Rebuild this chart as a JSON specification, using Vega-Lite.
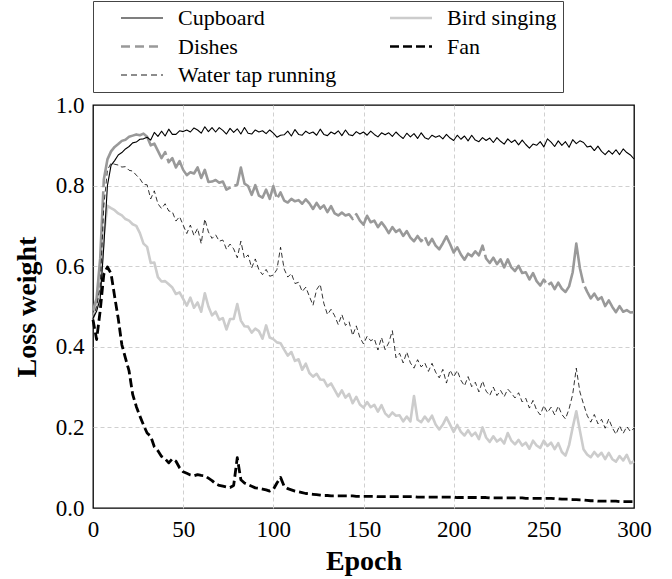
{
  "$schema": "https://vega.github.io/schema/vega-lite/v6.json",
  "width": 541,
  "height": 403,
  "autosize": {"type": "none"},
  "padding": {"left": 93, "top": 105, "right": 38, "bottom": 71},
  "background": "white",
  "config": {
    "font": "Liberation Serif",
    "view": {"stroke": "black", "strokeWidth": 1.3},
    "axis": {
      "labelFont": "Liberation Serif", "labelFontSize": 23, "labelColor": "black",
      "titleFont": "Liberation Serif", "titleFontSize": 28, "titleFontWeight": "bold", "titleColor": "black",
      "ticks": false, "domain": false, "grid": true, "gridDash": [4, 3], "gridColor": "#d0d0d0", "gridWidth": 1,
      "labelFlush": false, "labelOverlap": false
    }
  },
  "datasets": {
    "names": [
      {"k": "c", "name": "Cupboard"},
      {"k": "d", "name": "Dishes"},
      {"k": "w", "name": "Water tap running"},
      {"k": "b", "name": "Bird singing"},
      {"k": "f", "name": "Fan"}
    ]
  },
  "data": {"values": [
    {"e":0,"c":0.470,"d":0.490,"w":0.470,"b":0.470,"f":0.467},
    {"e":2,"c":0.488,"d":0.520,"w":0.500,"b":0.500,"f":0.418},
    {"e":4,"c":0.520,"d":0.620,"w":0.550,"b":0.550,"f":0.490},
    {"e":6,"c":0.650,"d":0.815,"w":0.750,"b":0.680,"f":0.580},
    {"e":8,"c":0.800,"d":0.865,"w":0.838,"b":0.750,"f":0.598},
    {"e":10,"c":0.850,"d":0.885,"w":0.856,"b":0.744,"f":0.582},
    {"e":12,"c":0.862,"d":0.896,"w":0.853,"b":0.739,"f":0.525},
    {"e":14,"c":0.876,"d":0.903,"w":0.851,"b":0.731,"f":0.470},
    {"e":16,"c":0.882,"d":0.911,"w":0.846,"b":0.726,"f":0.405},
    {"e":18,"c":0.891,"d":0.914,"w":0.847,"b":0.717,"f":0.372},
    {"e":20,"c":0.897,"d":0.921,"w":0.838,"b":0.713,"f":0.340},
    {"e":22,"c":0.906,"d":0.924,"w":0.836,"b":0.704,"f":0.282},
    {"e":24,"c":0.908,"d":0.927,"w":0.826,"b":0.700,"f":0.252},
    {"e":26,"c":0.915,"d":0.925,"w":0.817,"b":0.682,"f":0.228},
    {"e":28,"c":0.916,"d":0.929,"w":0.803,"b":0.656,"f":0.206},
    {"e":30,"c":0.920,"d":0.921,"w":0.802,"b":0.648,"f":0.186},
    {"e":32,"c":0.913,"d":0.900,"w":0.767,"b":0.608,"f":0.178},
    {"e":34,"c":0.932,"d":0.904,"w":0.787,"b":0.609,"f":0.152},
    {"e":36,"c":0.922,"d":0.886,"w":0.755,"b":0.573,"f":0.142},
    {"e":38,"c":0.935,"d":0.868,"w":0.743,"b":0.562,"f":0.128},
    {"e":40,"c":0.923,"d":0.883,"w":0.755,"b":0.563,"f":0.122},
    {"e":42,"c":0.940,"d":0.858,"w":0.737,"b":0.555,"f":0.112},
    {"e":44,"c":0.927,"d":0.868,"w":0.735,"b":0.547,"f":0.122},
    {"e":46,"c":0.927,"d":0.845,"w":0.712,"b":0.531,"f":0.116},
    {"e":48,"c":0.936,"d":0.861,"w":0.723,"b":0.535,"f":0.100},
    {"e":50,"c":0.934,"d":0.839,"w":0.702,"b":0.519,"f":0.090},
    {"e":52,"c":0.938,"d":0.826,"w":0.681,"b":0.502,"f":0.086},
    {"e":54,"c":0.933,"d":0.833,"w":0.702,"b":0.522,"f":0.082},
    {"e":56,"c":0.943,"d":0.830,"w":0.676,"b":0.497,"f":0.080},
    {"e":58,"c":0.938,"d":0.845,"w":0.694,"b":0.510,"f":0.083},
    {"e":60,"c":0.930,"d":0.819,"w":0.656,"b":0.487,"f":0.081},
    {"e":62,"c":0.946,"d":0.839,"w":0.717,"b":0.533,"f":0.080},
    {"e":64,"c":0.934,"d":0.809,"w":0.685,"b":0.500,"f":0.074},
    {"e":66,"c":0.944,"d":0.810,"w":0.669,"b":0.478,"f":0.068},
    {"e":68,"c":0.933,"d":0.814,"w":0.678,"b":0.487,"f":0.060},
    {"e":70,"c":0.944,"d":0.807,"w":0.662,"b":0.467,"f":0.056},
    {"e":72,"c":0.937,"d":0.810,"w":0.665,"b":0.471,"f":0.054},
    {"e":74,"c":0.928,"d":0.790,"w":0.642,"b":0.443,"f":0.052},
    {"e":76,"c":0.942,"d":0.795,"w":0.655,"b":0.469,"f":0.051},
    {"e":78,"c":0.932,"d":0.799,"w":0.643,"b":0.469,"f":0.056},
    {"e":80,"c":0.941,"d":0.802,"w":0.621,"b":0.506,"f":0.125},
    {"e":82,"c":0.928,"d":0.845,"w":0.662,"b":0.465,"f":0.070},
    {"e":84,"c":0.944,"d":0.805,"w":0.619,"b":0.451,"f":0.062},
    {"e":86,"c":0.930,"d":0.799,"w":0.628,"b":0.450,"f":0.058},
    {"e":88,"c":0.928,"d":0.777,"w":0.596,"b":0.435,"f":0.054},
    {"e":90,"c":0.938,"d":0.801,"w":0.618,"b":0.445,"f":0.050},
    {"e":92,"c":0.933,"d":0.775,"w":0.591,"b":0.439,"f":0.049},
    {"e":94,"c":0.936,"d":0.770,"w":0.579,"b":0.420,"f":0.047},
    {"e":96,"c":0.929,"d":0.790,"w":0.592,"b":0.453,"f":0.045},
    {"e":98,"c":0.938,"d":0.767,"w":0.575,"b":0.423,"f":0.042},
    {"e":100,"c":0.930,"d":0.799,"w":0.578,"b":0.419,"f":0.046},
    {"e":102,"c":0.920,"d":0.767,"w":0.592,"b":0.411,"f":0.062},
    {"e":104,"c":0.925,"d":0.783,"w":0.647,"b":0.409,"f":0.076},
    {"e":106,"c":0.926,"d":0.763,"w":0.593,"b":0.393,"f":0.054},
    {"e":108,"c":0.935,"d":0.758,"w":0.573,"b":0.378,"f":0.048},
    {"e":110,"c":0.923,"d":0.767,"w":0.582,"b":0.387,"f":0.045},
    {"e":112,"c":0.939,"d":0.761,"w":0.557,"b":0.365,"f":0.042},
    {"e":114,"c":0.927,"d":0.764,"w":0.560,"b":0.369,"f":0.040},
    {"e":116,"c":0.925,"d":0.755,"w":0.537,"b":0.343,"f":0.038},
    {"e":118,"c":0.935,"d":0.766,"w":0.548,"b":0.358,"f":0.036},
    {"e":120,"c":0.929,"d":0.756,"w":0.525,"b":0.335,"f":0.035},
    {"e":122,"c":0.933,"d":0.742,"w":0.503,"b":0.326,"f":0.034},
    {"e":124,"c":0.925,"d":0.757,"w":0.542,"b":0.333,"f":0.033},
    {"e":126,"c":0.940,"d":0.743,"w":0.555,"b":0.319,"f":0.032},
    {"e":128,"c":0.927,"d":0.751,"w":0.508,"b":0.318,"f":0.031},
    {"e":130,"c":0.924,"d":0.734,"w":0.480,"b":0.302,"f":0.031},
    {"e":132,"c":0.933,"d":0.749,"w":0.493,"b":0.309,"f":0.030},
    {"e":134,"c":0.928,"d":0.731,"w":0.477,"b":0.293,"f":0.030},
    {"e":136,"c":0.936,"d":0.726,"w":0.455,"b":0.277,"f":0.030},
    {"e":138,"c":0.924,"d":0.733,"w":0.480,"b":0.292,"f":0.030},
    {"e":140,"c":0.938,"d":0.726,"w":0.453,"b":0.274,"f":0.030},
    {"e":142,"c":0.926,"d":0.729,"w":0.462,"b":0.283,"f":0.030},
    {"e":144,"c":0.924,"d":0.717,"w":0.428,"b":0.260,"f":0.030},
    {"e":146,"c":0.934,"d":0.729,"w":0.452,"b":0.276,"f":0.029},
    {"e":148,"c":0.928,"d":0.713,"w":0.423,"b":0.257,"f":0.029},
    {"e":150,"c":0.933,"d":0.703,"w":0.407,"b":0.249,"f":0.029},
    {"e":152,"c":0.925,"d":0.725,"w":0.426,"b":0.263,"f":0.029},
    {"e":154,"c":0.935,"d":0.709,"w":0.415,"b":0.250,"f":0.029},
    {"e":156,"c":0.927,"d":0.713,"w":0.420,"b":0.256,"f":0.029},
    {"e":158,"c":0.921,"d":0.697,"w":0.392,"b":0.239,"f":0.028},
    {"e":160,"c":0.931,"d":0.709,"w":0.423,"b":0.255,"f":0.028},
    {"e":162,"c":0.926,"d":0.697,"w":0.393,"b":0.235,"f":0.028},
    {"e":164,"c":0.931,"d":0.682,"w":0.410,"b":0.226,"f":0.028},
    {"e":166,"c":0.922,"d":0.697,"w":0.440,"b":0.237,"f":0.028},
    {"e":168,"c":0.933,"d":0.685,"w":0.373,"b":0.229,"f":0.028},
    {"e":170,"c":0.924,"d":0.691,"w":0.384,"b":0.230,"f":0.028},
    {"e":172,"c":0.917,"d":0.675,"w":0.360,"b":0.215,"f":0.028},
    {"e":174,"c":0.930,"d":0.687,"w":0.387,"b":0.227,"f":0.028},
    {"e":176,"c":0.921,"d":0.671,"w":0.360,"b":0.215,"f":0.028},
    {"e":178,"c":0.929,"d":0.662,"w":0.347,"b":0.278,"f":0.028},
    {"e":180,"c":0.917,"d":0.675,"w":0.368,"b":0.219,"f":0.027},
    {"e":182,"c":0.931,"d":0.662,"w":0.350,"b":0.213,"f":0.027},
    {"e":184,"c":0.919,"d":0.673,"w":0.360,"b":0.227,"f":0.027},
    {"e":186,"c":0.915,"d":0.653,"w":0.339,"b":0.215,"f":0.027},
    {"e":188,"c":0.925,"d":0.668,"w":0.359,"b":0.229,"f":0.027},
    {"e":190,"c":0.920,"d":0.651,"w":0.337,"b":0.207,"f":0.027},
    {"e":192,"c":0.924,"d":0.642,"w":0.323,"b":0.195,"f":0.027},
    {"e":194,"c":0.916,"d":0.657,"w":0.344,"b":0.207,"f":0.027},
    {"e":196,"c":0.927,"d":0.674,"w":0.310,"b":0.225,"f":0.027},
    {"e":198,"c":0.918,"d":0.655,"w":0.342,"b":0.207,"f":0.027},
    {"e":200,"c":0.912,"d":0.634,"w":0.325,"b":0.189,"f":0.027},
    {"e":202,"c":0.925,"d":0.647,"w":0.341,"b":0.206,"f":0.026},
    {"e":204,"c":0.915,"d":0.629,"w":0.317,"b":0.189,"f":0.026},
    {"e":206,"c":0.923,"d":0.616,"w":0.303,"b":0.180,"f":0.026},
    {"e":208,"c":0.911,"d":0.631,"w":0.326,"b":0.193,"f":0.026},
    {"e":210,"c":0.925,"d":0.625,"w":0.301,"b":0.179,"f":0.026},
    {"e":212,"c":0.913,"d":0.637,"w":0.312,"b":0.187,"f":0.026},
    {"e":214,"c":0.909,"d":0.627,"w":0.288,"b":0.171,"f":0.026},
    {"e":216,"c":0.919,"d":0.651,"w":0.315,"b":0.200,"f":0.026},
    {"e":218,"c":0.912,"d":0.619,"w":0.290,"b":0.175,"f":0.026},
    {"e":220,"c":0.918,"d":0.608,"w":0.279,"b":0.164,"f":0.025},
    {"e":222,"c":0.907,"d":0.621,"w":0.300,"b":0.178,"f":0.025},
    {"e":224,"c":0.919,"d":0.605,"w":0.279,"b":0.165,"f":0.025},
    {"e":226,"c":0.910,"d":0.617,"w":0.292,"b":0.172,"f":0.025},
    {"e":228,"c":0.903,"d":0.597,"w":0.276,"b":0.160,"f":0.025},
    {"e":230,"c":0.916,"d":0.617,"w":0.295,"b":0.186,"f":0.025},
    {"e":232,"c":0.907,"d":0.597,"w":0.285,"b":0.167,"f":0.025},
    {"e":234,"c":0.913,"d":0.588,"w":0.273,"b":0.158,"f":0.025},
    {"e":236,"c":0.901,"d":0.601,"w":0.286,"b":0.169,"f":0.025},
    {"e":238,"c":0.913,"d":0.583,"w":0.263,"b":0.155,"f":0.025},
    {"e":240,"c":0.902,"d":0.585,"w":0.272,"b":0.162,"f":0.024},
    {"e":242,"c":0.893,"d":0.567,"w":0.248,"b":0.147,"f":0.024},
    {"e":244,"c":0.903,"d":0.583,"w":0.267,"b":0.167,"f":0.024},
    {"e":246,"c":0.900,"d":0.563,"w":0.243,"b":0.155,"f":0.024},
    {"e":248,"c":0.909,"d":0.552,"w":0.231,"b":0.149,"f":0.024},
    {"e":250,"c":0.896,"d":0.567,"w":0.254,"b":0.167,"f":0.024},
    {"e":252,"c":0.916,"d":0.553,"w":0.237,"b":0.154,"f":0.024},
    {"e":254,"c":0.908,"d":0.559,"w":0.250,"b":0.162,"f":0.024},
    {"e":256,"c":0.897,"d":0.543,"w":0.231,"b":0.146,"f":0.023},
    {"e":258,"c":0.911,"d":0.559,"w":0.253,"b":0.161,"f":0.023},
    {"e":260,"c":0.900,"d":0.544,"w":0.232,"b":0.139,"f":0.022},
    {"e":262,"c":0.909,"d":0.536,"w":0.221,"b":0.130,"f":0.022},
    {"e":264,"c":0.895,"d":0.550,"w":0.246,"b":0.156,"f":0.022},
    {"e":266,"c":0.914,"d":0.585,"w":0.282,"b":0.200,"f":0.021},
    {"e":268,"c":0.904,"d":0.656,"w":0.347,"b":0.240,"f":0.021},
    {"e":270,"c":0.911,"d":0.595,"w":0.288,"b":0.192,"f":0.020},
    {"e":272,"c":0.907,"d":0.556,"w":0.258,"b":0.146,"f":0.020},
    {"e":274,"c":0.896,"d":0.537,"w":0.230,"b":0.133,"f":0.019},
    {"e":276,"c":0.898,"d":0.520,"w":0.213,"b":0.126,"f":0.018},
    {"e":278,"c":0.887,"d":0.532,"w":0.232,"b":0.139,"f":0.018},
    {"e":280,"c":0.898,"d":0.517,"w":0.209,"b":0.128,"f":0.017},
    {"e":282,"c":0.885,"d":0.523,"w":0.220,"b":0.137,"f":0.017},
    {"e":284,"c":0.877,"d":0.501,"w":0.198,"b":0.121,"f":0.017},
    {"e":286,"c":0.887,"d":0.515,"w":0.221,"b":0.137,"f":0.017},
    {"e":288,"c":0.878,"d":0.499,"w":0.199,"b":0.121,"f":0.017},
    {"e":290,"c":0.889,"d":0.486,"w":0.183,"b":0.115,"f":0.017},
    {"e":292,"c":0.877,"d":0.501,"w":0.204,"b":0.129,"f":0.016},
    {"e":294,"c":0.891,"d":0.487,"w":0.185,"b":0.118,"f":0.016},
    {"e":296,"c":0.882,"d":0.491,"w":0.202,"b":0.132,"f":0.016},
    {"e":298,"c":0.876,"d":0.485,"w":0.190,"b":0.111,"f":0.016},
    {"e":300,"c":0.866,"d":0.486,"w":0.198,"b":0.116,"f":0.016}
  ]},
  "transform": [
    {"fold": ["c", "d", "w", "b", "f"], "as": ["k", "v"]},
    {"lookup": "k", "from": {"data": {"name": "names"}, "key": "k", "fields": ["name"]}}
  ],
  "encoding": {
    "x": {
      "field": "e", "type": "quantitative",
      "scale": {"domain": [0, 300], "nice": false},
      "axis": {
        "values": [0, 50, 100, 150, 200, 250, 300], "title": "Epoch",
        "labelFont": "Liberation Serif", "labelFontSize": 23, "labelPadding": 10, "titlePadding": 6,
        "gridOpacity": {"condition": {"test": "datum.value == 0 || datum.value == 300", "value": 0}, "value": 1},
        "encode": {"labels": {"update": {"font": {"value": "Liberation Serif"}}}}
      }
    },
    "y": {
      "field": "v", "type": "quantitative",
      "scale": {"domain": [0, 1], "nice": false},
      "axis": {
        "values": [0, 0.2, 0.4, 0.6, 0.8, 1.0], "format": ".1f", "title": "Loss weight",
        "labelFont": "Liberation Serif", "labelFontSize": 23, "labelPadding": 9, "titlePadding": 14,
        "gridOpacity": {"condition": {"test": "datum.value == 0 || datum.value == 1", "value": 0}, "value": 1},
        "encode": {"labels": {"update": {"font": {"value": "Liberation Serif"}}}}
      }
    },
    "stroke": {
      "field": "name", "type": "nominal",
      "scale": {
        "domain": ["Cupboard", "Dishes", "Water tap running", "Bird singing", "Fan"],
        "range": ["#000000", "#999999", "#000000", "#cccccc", "#000000"]
      },
      "legend": {
        "orient": "none", "legendX": 0, "legendY": -104,
        "columns": 2, "title": null,
        "symbolType": "M-2,0H2", "symbolSize": 441,
        "symbolOffset": 32, "labelOffset": 25, "columnPadding": 31, "rowPadding": 6.5,
        "padding": 6,
        "labelFont": "Liberation Serif", "labelFontSize": 22, "labelColor": "black",
        "strokeColor": "#444444", "fillColor": "white",
        "encode": {
          "symbols": {
            "update": {
              "strokeDash": {"signal": "datum.value == 'Dishes' ? [9, 5] : datum.value == 'Fan' ? [9, 4] : datum.value == 'Water tap running' ? [6, 4] : [1, 0]"},
              "strokeWidth": {"signal": "datum.value == 'Cupboard' ? 1.2 : datum.value == 'Water tap running' ? 0.9 : 2.7"}
            }
          }
        }
      }
    }
  },
  "layer": [
    {
      "transform": [{"filter": "datum.name == 'Bird singing'"}],
      "mark": {"type": "line", "strokeWidth": 2.6, "strokeJoin": "round"}
    },
    {
      "transform": [{"filter": "datum.name == 'Dishes'"}],
      "mark": {"type": "line", "strokeWidth": 2.6, "strokeDash": [120, 4], "strokeJoin": "round"}
    },
    {
      "transform": [{"filter": "datum.name == 'Water tap running'"}],
      "mark": {"type": "line", "strokeWidth": 0.8, "strokeDash": [5, 3], "strokeJoin": "round"}
    },
    {
      "transform": [{"filter": "datum.name == 'Cupboard'"}],
      "mark": {"type": "line", "strokeWidth": 1.1, "strokeJoin": "round"}
    },
    {
      "transform": [{"filter": "datum.name == 'Fan'"}],
      "mark": {"type": "line", "strokeWidth": 2.8, "strokeDash": [9, 4], "strokeJoin": "round"}
    }
  ]
}
